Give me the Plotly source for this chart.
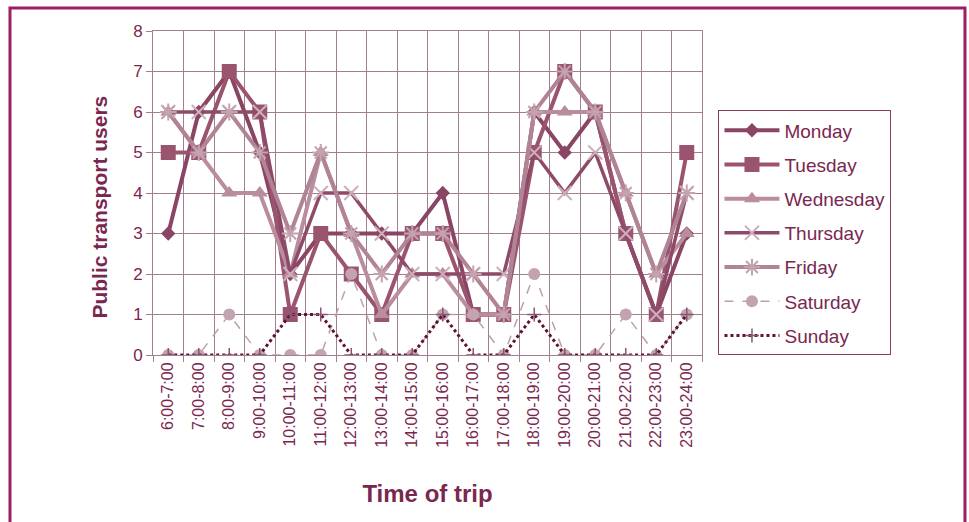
import plotly.graph_objects as go

# Hourly time slots
slots = ["6:00-7:00", "7:00-8:00", "8:00-9:00", "9:00-10:00", "10:00-11:00",
         "11:00-12:00", "12:00-13:00", "13:00-14:00", "14:00-15:00", "15:00-16:00",
         "16:00-17:00", "17:00-18:00", "18:00-19:00", "19:00-20:00", "20:00-21:00",
         "21:00-22:00", "22:00-23:00", "23:00-24:00"]

# Public transport users per slot, by day
monday    = [3, 6, 7, 5, 2, 3, 3, 3, 3, 4, 1, 1, 6, 5, 6, 3, 1, 3]
tuesday   = [5, 5, 7, 6, 1, 3, 2, 1, 3, 3, 1, 1, 5, 7, 6, 3, 1, 5]
wednesday = [6, 5, 4, 4, 2, 5, 3, 1, 2, 2, 1, 1, 6, 6, 6, 4, 2, 3]
thursday  = [6, 6, 6, 6, 2, 4, 4, 3, 2, 2, 2, 2, 5, 4, 5, 3, 1, 4]
friday    = [6, 5, 6, 5, 3, 5, 3, 2, 3, 3, 2, 1, 6, 7, 6, 4, 2, 4]
saturday  = [0, 0, 1, 0, 0, 0, 2, 0, 0, 1, 1, 0, 2, 0, 0, 1, 0, 1]
sunday    = [0, 0, 0, 0, 1, 1, 0, 0, 0, 1, 0, 0, 1, 0, 0, 0, 0, 1]

TEXT = "#7a2750"
GRID = "#a0808f"
FONT = "Liberation Sans, Arial, sans-serif"

series = [
    ("Monday", monday, dict(color="#8a4565", width=4), dict(symbol="diamond", size=11, color="#8a4565")),
    ("Tuesday", tuesday, dict(color="#9a5470", width=4), dict(symbol="square", size=15, color="#9a5470")),
    ("Wednesday", wednesday, dict(color="#b98d9e", width=4), dict(symbol="triangle-up", size=14, color="#b98d9e")),
    ("Thursday", thursday, dict(color="#8e4a68", width=3.5), dict(symbol="x-thin-open", size=14, color="#cdb0bc", line=dict(width=2, color="#cdb0bc"))),
    ("Friday", friday, dict(color="#b08395", width=4), dict(symbol="asterisk-open", size=14, color="#c4a2b0", line=dict(width=2, color="#c4a2b0"))),
    ("Saturday", saturday, dict(color="#b9a2ac", width=1.5, dash="dash"), dict(symbol="circle", size=12, color="#c3a3b1")),
    ("Sunday", sunday, dict(color="#5e1236", width=3, dash="dot"), dict(symbol="cross-thin-open", size=10, color="#8a5570", line=dict(width=1.5, color="#8a5570"))),
]

fig = go.Figure()
for name, vals, line, marker in series:
    fig.add_trace(go.Scatter(
        x=slots, y=vals, name=name, mode="lines+markers",
        line=line, marker=marker, legendgroup=name,
    ))

fig.update_layout(
    width=969, height=522,
    margin=dict(l=153, r=267, t=31, b=167),
    paper_bgcolor="white", plot_bgcolor="white",
    font=dict(family=FONT, color=TEXT, size=16),
    showlegend=True,
    legend=dict(
        x=1.03, xanchor="left", y=0.755, yanchor="top",
        bordercolor="#8b3a60", borderwidth=1,
        font=dict(size=19, color=TEXT),
        tracegroupgap=6.5, itemwidth=55,
    ),
    xaxis=dict(
        type="category", tickson="boundaries", tickangle=-90,
        range=[-0.5, 17.5],
        showgrid=True, gridcolor=GRID, gridwidth=1,
        showline=True, linecolor=GRID, mirror=True,
        ticks="outside", ticklen=6, tickcolor=GRID,
        tickfont=dict(size=16, color=TEXT, family=FONT),
        title=dict(text="<b>Time of trip</b>", font=dict(size=24, color=TEXT), standoff=38),
    ),
    yaxis=dict(
        range=[0, 8], dtick=1,
        showgrid=True, gridcolor=GRID, gridwidth=1,
        zeroline=True, zerolinecolor=GRID,
        showline=True, linecolor=GRID, mirror=True,
        ticks="outside", ticklen=6, tickcolor=GRID,
        tickfont=dict(size=17, color=TEXT, family=FONT),
    ),
)

# Y axis title, placed slightly below the plot's vertical centre
fig.add_annotation(
    text="<b>Public transport users</b>", textangle=-90,
    xref="paper", yref="paper", x=-0.0965, y=0.455,
    xanchor="center", yanchor="middle", showarrow=False,
    font=dict(size=21, color=TEXT, family=FONT),
)

# Outer frame around the chart
fig.add_shape(type="rect", xref="paper", yref="paper",
              x0=-0.2605, x1=1.479, y0=-0.6, y1=1.071,
              line=dict(color="#9c1f62", width=3), layer="below")

fig.write_html("out.html")
